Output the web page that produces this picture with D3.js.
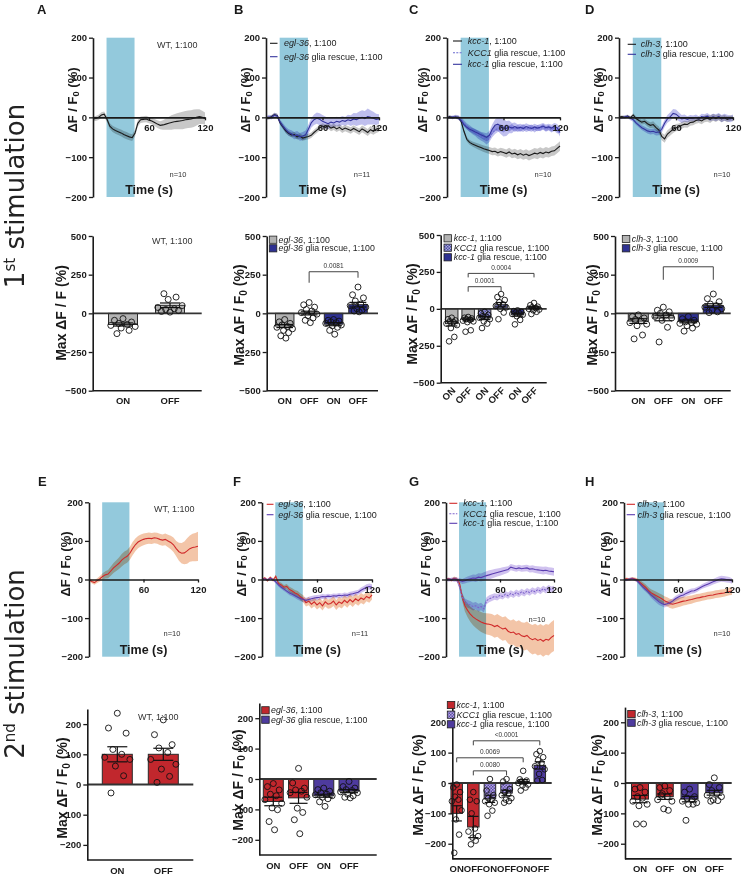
<!DOCTYPE html>
<html><head><meta charset="utf-8">
<script src="https://cdn.jsdelivr.net/npm/d3@7"></script>
<style>body{margin:0;background:#fff}svg{display:block;background:#fff}</style>
</head><body><svg id="c" width="747" height="876"></svg>
<script>
// ---------------- DATA ----------------
const time = [0,3,6,9,12,15,18,21,24,27,30,33,36,39,42,45,48,51,54,57,60,63,66,69,72,75,78,81,84,87,90,93,96,99,102,105,108,111,114,117,120];
const semTime = [0,12,24,36,48,60,72,84,96,108,120];
const stimWindow = [14.5, 44.5];
const yTicksLine = [-200,-100,0,100,200];
const xTicksLine = [60,120];

// 1st stimulation traces
const aWT = [-4,-3,0,6,8,-5,-22,-29,-33,-36,-39,-43,-46,-49,-51,-40,-15,-6,-5,-4,-7,-9,-13,-17,-20,-19,-17,-15,-13,-11,-10,-9,-8,-6,-5,-4,-2,0,2,0,-3];
const aWTsem = [6,7,8,9,8,8,10,18,22,22,15];
const bEgl = [0,-2,2,7,4,-14,-24,-34,-40,-44,-43,-49,-47,-52,-50,-48,-45,-38,-32,-26,-22,-25,-21,-27,-24,-29,-25,-31,-27,-30,-33,-28,-32,-36,-29,-33,-38,-31,-35,-30,-27];
const bEglSem = [4,5,6,7,7,7,8,8,8,9,9];
const bEglRes = [-2,1,0,6,3,-12,-22,-31,-38,-41,-46,-44,-49,-47,-44,-30,-14,-6,-2,-5,-10,-13,-16,-12,-14,-10,-12,-8,-10,-6,-8,-4,-6,-2,0,-3,2,0,-2,-5,-4];
const bEglResSem = [5,6,8,10,12,16,12,11,16,20,12];
const cKcc = [0,2,-1,1,0,-10,-35,-55,-63,-67,-70,-73,-76,-79,-81,-83,-86,-85,-89,-86,-88,-91,-87,-92,-90,-94,-91,-95,-92,-96,-93,-90,-92,-88,-91,-87,-89,-85,-84,-78,-72];
const cKccSem = [3,4,6,8,9,10,11,12,13,12,12];
const cKCC1Res = [0,1,-1,2,0,-5,-14,-22,-28,-34,-38,-44,-48,-52,-58,-52,-40,-32,-28,-26,-30,-25,-28,-24,-30,-26,-29,-24,-30,-27,-25,-31,-26,-28,-24,-29,-26,-31,-27,-33,-30];
const cKCC1ResSem = [3,5,8,10,10,8,7,7,7,7,8];
const cKccRes = [0,-1,1,0,-2,-8,-18,-25,-30,-33,-37,-40,-44,-47,-50,-45,-30,-20,-17,-22,-26,-28,-24,-27,-23,-27,-25,-28,-23,-26,-28,-24,-27,-25,-22,-26,-24,-27,-23,-26,-38];
const cKccResSem = [3,4,6,8,12,22,10,8,8,8,10];
const dClh = [0,2,0,3,-1,6,-3,-8,-12,-10,-16,-20,-18,-26,-32,-48,-54,-42,-36,-30,-26,-24,-20,-17,-18,-13,-12,-8,-6,-9,-4,-2,-5,0,-3,1,-4,-1,-5,-2,-3];
const dClhSem = [3,4,6,8,10,9,8,8,9,8,7];
const dClhRes = [0,-1,1,2,-2,-6,-14,-20,-26,-30,-34,-36,-35,-38,-37,-30,-15,-4,2,10,8,2,-4,-2,-5,-2,-3,0,-4,2,0,3,-2,1,-1,2,-3,0,-2,-4,-1];
const dClhResSem = [3,5,6,7,9,12,8,7,8,9,8];

// 2nd stimulation traces
const eWT = [0,-5,-8,-3,2,8,12,14,22,30,36,42,50,56,60,68,80,90,97,101,104,106,107,106,108,107,104,102,104,100,96,90,80,72,68,69,74,80,83,84,86];
const eWTsem = [4,7,12,16,17,15,14,15,20,33,38];
const fEgl = [0,4,-3,5,-2,8,-10,-14,-20,-18,-26,-30,-35,-38,-45,-50,-60,-56,-64,-58,-66,-60,-68,-58,-64,-62,-56,-66,-58,-62,-54,-60,-52,-58,-50,-55,-48,-52,-44,-48,-40];
const fEglSem = [3,4,6,8,10,12,12,13,13,13,12];
const fEglRes = [0,2,-1,3,0,-6,-14,-20,-25,-30,-35,-38,-42,-46,-49,-52,-54,-52,-50,-48,-47,-46,-44,-45,-43,-44,-42,-43,-41,-42,-40,-41,-38,-37,-35,-33,-28,-24,-20,-18,-20];
const fEglResSem = [3,4,5,6,7,7,6,6,6,7,8];
const gKcc = [0,2,-2,3,0,-10,-45,-68,-80,-90,-97,-102,-106,-110,-113,-115,-116,-118,-122,-119,-124,-128,-126,-134,-138,-136,-142,-140,-146,-148,-145,-152,-156,-153,-158,-155,-160,-155,-157,-150,-145];
const gKccSem = [3,5,18,25,28,30,32,35,38,40,40];
const gKCC1Res = [0,-2,1,-1,0,-18,-45,-58,-63,-66,-70,-68,-73,-70,-76,-55,-50,-47,-44,-46,-41,-44,-38,-42,-36,-40,-34,-38,-32,-36,-30,-34,-28,-32,-26,-30,-24,-28,-22,-26,-24];
const gKCC1ResSem = [3,6,10,10,9,8,8,8,8,8,8];
const gKccRes = [0,1,-1,2,0,-2,-5,-3,0,2,4,3,6,5,8,10,12,14,16,18,20,22,24,26,32,30,28,30,28,29,30,27,28,26,25,24,23,24,22,21,20];
const gKccResSem = [3,5,8,10,12,10,8,8,9,10,10];
const hClh = [0,2,0,3,1,-2,-8,-14,-20,-28,-34,-38,-42,-46,-50,-55,-58,-62,-64,-62,-60,-58,-56,-55,-53,-52,-50,-48,-47,-45,-44,-42,-41,-40,-38,-37,-36,-35,-33,-31,-30];
const hClhSem = [3,4,8,10,12,12,11,10,10,10,10];
const hClhRes = [0,-1,1,2,0,-4,-12,-20,-26,-32,-40,-46,-52,-58,-62,-65,-63,-60,-56,-50,-46,-42,-40,-36,-33,-30,-29,-26,-22,-18,-15,-12,-9,-6,-3,0,2,1,0,-1,-4];
const hClhResSem = [3,4,6,8,7,7,7,6,7,8,7];

// Bar chart data
const cats2 = ["ON","OFF"];
const cats4 = ["ON","OFF","ON","OFF"];
const cats6 = ["ON","OFF","ON","OFF","ON","OFF"];
const aBarMeans = [-72, 52];
const aBarSems = [10, 15];
const aBarPts = [[-34,-45,-56,-65,-72,-78,-85,-95,-110,-131],[8,12,18,25,30,38,50,90,105,127]];
const bBarMeans = [-82, 2, -70, 56];
const bBarSems = [10, 12, 10, 15];
const bBarPts = [[-40,-55,-65,-75,-85,-90,-100,-110,-125,-145,-160],[70,55,40,25,15,5,-5,-15,-30,-45,-60],[-40,-45,-50,-55,-60,-65,-75,-80,-90,-110,-135],[170,120,100,80,60,50,40,30,20,15,10]];
const cBarMeans = [-100, -72, -62, 28, -40, 10];
const cBarSems = [16, 10, 11, 15, 10, 7];
const cBarPts = [[-60,-70,-78,-85,-90,-100,-110,-130,-190,-220],[-55,-60,-65,-70,-75,-80,-85,-90,-145,-155],[-20,-30,-40,-50,-55,-60,-70,-85,-100,-130],[100,80,60,45,30,20,10,0,-25,-70],[-10,-15,-20,-25,-30,-35,-40,-50,-75,-105],[40,25,15,10,5,0,-5,-10,-20,-35]];
const dBarMeans = [-50, -30, -52, 50];
const dBarSems = [15, 18, 9, 12];
const dBarPts = [[-10,-20,-30,-40,-50,-60,-70,-80,-140,-165],[40,20,10,0,-10,-20,-30,-45,-90,-185],[-20,-35,-45,-55,-60,-65,-70,-80,-95,-115],[125,95,75,60,50,40,30,20,10,5]];
const eBarMeans = [100, 100];
const eBarSems = [25, 20];
const eBarPts = [[236,187,170,116,100,90,83,61,29,-28],[214,165,132,121,106,83,67,51,27,7]];
const fBarMeans = [-74, -62, -55, -40];
const fBarSems = [14, 18, 5, 5];
const fBarPts = [[-15,-25,-36,-50,-55,-68,-80,-95,-101,-140,-167],[35,-13,-30,-36,-40,-45,-60,-96,-110,-134,-180],[-30,-35,-40,-45,-50,-52,-55,-60,-65,-75,-90],[-8,-25,-30,-35,-38,-42,-45,-50,-55,-60,-62]];
const gBarMeans = [-100, -145, -52, -33, 5, 58];
const gBarSems = [25, 35, 12, 9, 6, 12];
const gBarPts = [[-5,-15,-30,-45,-55,-60,-90,-120,-170,-230],[-30,-55,-60,-100,-150,-160,-175,-180,-190,-202],[13,-25,-40,-50,-55,-60,-65,-70,-91,-108],[13,5,-20,-30,-35,-40,-50,-55,-60,-65],[40,12,8,5,3,0,-5,-8,-15,-25],[105,95,85,75,65,55,45,30,10,8]];
const hBarMeans = [-53, -45, -53, -32];
const hBarSems = [12, 9, 9, 8];
const hBarPts = [[-15,-20,-30,-45,-50,-60,-70,-75,-135,-135],[-10,-15,-25,-35,-45,-55,-60,-85,-90,-40],[-20,-30,-45,-50,-55,-60,-65,-70,-70,-123],[17,-5,-15,-25,-35,-40,-45,-55,-58,-60]];

const legEgl = [["egl-36", ", 1:100"], ["egl-36", " glia rescue, 1:100"]];
const legKcc = [["kcc-1", ", 1:100"], ["KCC1", " glia rescue, 1:100"], ["kcc-1", " glia rescue, 1:100"]];
const legClh = [["clh-3", ", 1:100"], ["clh-3", " glia rescue, 1:100"]];

// ---------------- STYLE ----------------
const FONT = '"Liberation Sans", Arial, Helvetica, sans-serif';
const STIM = '#93c9dc';
const INK = '#1a1a1a';
const GREY_BAND = '#c2c2c2', BLUE = '#34349e', BLUE_DOT = '#6a6ad0', BLUE_BAND = '#b8b8ec';
const RED = '#d02a2a', RED_BAND = '#f2bf9f', PURPLE = '#5a3cb0', PURPLE_DOT = '#7d62cc', PURPLE_BAND = '#cbbcee';
const BAR_GREY = '#b3b3b3', BAR_NAVY = '#2e3192', BAR_RED = '#c1272d', BAR_PURPLE = '#4e3b9e';

const svg = d3.select('#c').style('font-family', FONT);
const defs = svg.append('defs');
function checker(id, c1, c2) {
  const p = defs.append('pattern').attr('id', id).attr('width', 3).attr('height', 3).attr('patternUnits', 'userSpaceOnUse');
  p.append('rect').attr('width', 3).attr('height', 3).attr('fill', c1);
  p.append('rect').attr('width', 1.5).attr('height', 1.5).attr('fill', c2);
  p.append('rect').attr('x', 1.5).attr('y', 1.5).attr('width', 1.5).attr('height', 1.5).attr('fill', c2);
}
checker('patTop', '#a6a6d8', '#4e4ea6');
checker('patBot', '#b5a9dd', '#5c4aa9');

function dfLabel(g, cx, cy, size, prefix, sub) {
  const t = g.append('text').attr('transform', `translate(${cx},${cy}) rotate(-90)`)
    .attr('text-anchor', 'middle').attr('dominant-baseline', 'central')
    .attr('font-size', size).attr('font-weight', 'bold').attr('fill', INK);
  t.append('tspan').text(prefix + 'ΔF / F');
  if (sub) {
    t.append('tspan').attr('font-size', size * 0.72).attr('dy', size * 0.28).text('0');
    t.append('tspan').attr('dy', -size * 0.28).text(' (%)');
  } else {
    t.append('tspan').text(' (%)');
  }
}
function styleAxis(a, fs) {
  a.select('.domain').attr('stroke', INK).attr('stroke-width', 1.6);
  a.selectAll('.tick line').attr('stroke', INK).attr('stroke-width', 1.3);
  a.selectAll('.tick text').attr('font-size', fs).attr('font-weight', 'bold').attr('fill', INK).attr('font-family', FONT);
}
function richLegendText(g, x, y, parts, fs) {
  const t = g.append('text').attr('x', x).attr('y', y).attr('font-size', fs).attr('fill', '#222').attr('dominant-baseline', 'central');
  t.append('tspan').attr('font-style', 'italic').text(parts[0]);
  t.append('tspan').text(parts[1]);
}

// ---------------- LINE PANELS ----------------
const ROW = [{yTop: 37.7, yBot: 197, lab: 100, time: 193.5}, {yTop: 502.3, yBot: 656.7, lab: 564, time: 653.5}];
function linePanel(p) {
  const r = ROW[p.row];
  const g = svg.append('g');
  const x = d3.scaleLinear().domain([0, 120]).range([p.x0, p.x1]);
  const y = d3.scaleLinear().domain([-200, 200]).range([r.yBot, r.yTop]);
  g.append('rect').attr('x', x(stimWindow[0])).attr('width', x(stimWindow[1]) - x(stimWindow[0]))
    .attr('y', y(200)).attr('height', y(-200) - y(200)).attr('fill', STIM);
  const data = p.series.map(s => {
    const es = d3.scaleLinear().domain(semTime).range(s.sem);
    return time.map((t, i) => ({t, v: s.vals[i], e: es(t)}));
  });
  p.series.forEach((s, k) => {
    g.append('path').datum(data[k])
      .attr('d', d3.area().x(d => x(d.t)).y0(d => y(d.v - d.e)).y1(d => y(d.v + d.e)))
      .attr('fill', s.band).attr('opacity', 0.9).style('mix-blend-mode', 'multiply');
  });
  p.series.forEach((s, k) => {
    g.append('path').datum(data[k])
      .attr('d', d3.line().x(d => x(d.t)).y(d => y(d.v)))
      .attr('fill', 'none').attr('stroke', s.color).attr('stroke-width', 1.1)
      .attr('stroke-dasharray', s.dash ? '2,1.3' : null);
  });
  const xa = g.append('g').attr('transform', `translate(0,${y(0)})`)
    .call(d3.axisBottom(x).tickValues(xTicksLine).tickSize(3).tickSizeOuter(0).tickPadding(4));
  styleAxis(xa, 9.5);
  const ya = g.append('g').attr('transform', `translate(${p.x0},0)`)
    .call(d3.axisLeft(y).tickValues(yTicksLine).tickSize(4).tickSizeOuter(0).tickPadding(2));
  styleAxis(ya, 9.5);
  dfLabel(g, p.labX, r.lab, 13, '', true);
  g.append('text').attr('x', (p.x0 + p.x1) / 2).attr('y', r.time).attr('text-anchor', 'middle')
    .attr('font-size', 12.5).attr('font-weight', 'bold').attr('fill', INK).text('Time (s)');
  g.append('text').attr('x', p.nPos[0]).attr('y', p.nPos[1]).attr('text-anchor', 'middle')
    .attr('font-size', 7.5).attr('fill', '#333').text(p.n);
  if (p.wt) {
    g.append('text').attr('x', p.wt[0]).attr('y', p.wt[1]).attr('font-size', 9).attr('fill', '#333').text('WT, 1:100');
  }
  if (p.legend) {
    p.legend.rows.forEach((yy, i) => {
      const s = p.series[i];
      g.append('line').attr('x1', p.legend.lx[0]).attr('x2', p.legend.lx[1]).attr('y1', yy).attr('y2', yy)
        .attr('stroke', s.color).attr('stroke-width', 1.1).attr('stroke-dasharray', s.dash ? '2,1.3' : null);
      richLegendText(g, p.legend.tx, yy, p.legend.labels[i], 9);
    });
  }
}

linePanel({row: 0, x0: 93, x1: 205, labX: 72, n: 'n=10', nPos: [178, 177], wt: [157, 48],
  series: [{vals: aWT, sem: aWTsem, color: INK, band: GREY_BAND}]});
linePanel({row: 0, x0: 266, x1: 379, labX: 245, n: 'n=11', nPos: [362, 177],
  series: [{vals: bEgl, sem: bEglSem, color: INK, band: GREY_BAND}, {vals: bEglRes, sem: bEglResSem, color: BLUE, band: BLUE_BAND}],
  legend: {rows: [43.3, 56.7], lx: [270, 277.5], tx: 284, labels: legEgl}});
linePanel({row: 0, x0: 447, x1: 560, labX: 421.7, n: 'n=10', nPos: [543, 177],
  series: [{vals: cKcc, sem: cKccSem, color: INK, band: GREY_BAND}, {vals: cKCC1Res, sem: cKCC1ResSem, color: BLUE_DOT, band: BLUE_BAND, dash: true}, {vals: cKccRes, sem: cKccResSem, color: BLUE, band: BLUE_BAND}],
  legend: {rows: [41, 52.7, 64.3], lx: [453, 462], tx: 467.7, labels: legKcc}});
linePanel({row: 0, x0: 619, x1: 733, labX: 597.5, n: 'n=10', nPos: [722, 177],
  series: [{vals: dClh, sem: dClhSem, color: INK, band: GREY_BAND}, {vals: dClhRes, sem: dClhResSem, color: BLUE, band: BLUE_BAND}],
  legend: {rows: [44.3, 54.3], lx: [627.7, 636], tx: 640.7, labels: legClh}});
linePanel({row: 1, x0: 89, x1: 198, labX: 64.5, n: 'n=10', nPos: [172, 636], wt: [154, 512],
  series: [{vals: eWT, sem: eWTsem, color: RED, band: RED_BAND}]});
linePanel({row: 1, x0: 262, x1: 372, labX: 240.8, n: 'n=11', nPos: [360, 636],
  series: [{vals: fEgl, sem: fEglSem, color: RED, band: RED_BAND}, {vals: fEglRes, sem: fEglResSem, color: PURPLE, band: PURPLE_BAND}],
  legend: {rows: [504.3, 514.7], lx: [266.7, 273.5], tx: 278.3, labels: legEgl}});
linePanel({row: 1, x0: 446, x1: 554, labX: 424.5, n: 'n=10', nPos: [537, 622],
  series: [{vals: gKcc, sem: gKccSem, color: RED, band: RED_BAND}, {vals: gKCC1Res, sem: gKCC1ResSem, color: PURPLE_DOT, band: PURPLE_BAND, dash: true}, {vals: gKccRes, sem: gKccResSem, color: PURPLE, band: PURPLE_BAND}],
  legend: {rows: [503.3, 513.7, 523.3], lx: [449.3, 457.3], tx: 463.3, labels: legKcc}});
linePanel({row: 1, x0: 624, x1: 732, labX: 604.5, n: 'n=10', nPos: [722, 636],
  series: [{vals: hClh, sem: hClhSem, color: RED, band: RED_BAND}, {vals: hClhRes, sem: hClhResSem, color: PURPLE, band: PURPLE_BAND}],
  legend: {rows: [504.3, 514.7], lx: [626.7, 635], tx: 637.7, labels: legClh}});

// ---------------- BAR PANELS ----------------
const jitterPattern = [0, -0.7, 0.7, -0.35, 0.35, -1, 1, -0.15, 0.5, -0.5, 0.15];
function barPanel(p) {
  const g = svg.append('g');
  const y = d3.scaleLinear().domain(p.dom).range(p.yr);
  const x = d3.scalePoint().domain(d3.range(p.means.length)).range(p.c);
  const bw = p.bw;
  p.means.forEach((m, i) => {
    g.append('rect').attr('x', x(i) - bw / 2).attr('width', bw)
      .attr('y', Math.min(y(0), y(m))).attr('height', Math.abs(y(m) - y(0)))
      .attr('fill', p.fills[i]).attr('stroke', '#2a2a2a').attr('stroke-width', 1);
  });
  g.append('line').attr('x1', p.ax).attr('x2', p.right).attr('y1', y(0)).attr('y2', y(0))
    .attr('stroke', '#333').attr('stroke-width', 1.8);
  p.means.forEach((m, i) => {
    const s = p.sems[i], cw = Math.min(10, bw * 0.45);
    const eg = g.append('g').attr('stroke', '#111').attr('stroke-width', 1.2);
    eg.append('line').attr('x1', x(i)).attr('x2', x(i)).attr('y1', y(m - s)).attr('y2', y(m + s));
    eg.append('line').attr('x1', x(i) - cw).attr('x2', x(i) + cw).attr('y1', y(m + s)).attr('y2', y(m + s));
    eg.append('line').attr('x1', x(i) - cw).attr('x2', x(i) + cw).attr('y1', y(m - s)).attr('y2', y(m - s));
  });
  p.pts.forEach((arr, i) => {
    g.selectAll(null).data(arr).enter().append('circle')
      .attr('cx', (d, k) => x(i) + jitterPattern[k % jitterPattern.length] * bw * 0.42)
      .attr('cy', d => y(d)).attr('r', p.r || 3)
      .attr('fill', 'none').attr('stroke', '#111').attr('stroke-width', 0.9);
  });
  const ya = g.append('g').attr('transform', `translate(${p.ax},0)`)
    .call(d3.axisLeft(y).tickValues(p.ticks).tickSize(4).tickSizeOuter(0).tickPadding(2));
  styleAxis(ya, 9.5);
  g.append('line').attr('x1', p.ax).attr('x2', p.right).attr('y1', p.yr[0]).attr('y2', p.yr[0])
    .attr('stroke', INK).attr('stroke-width', 1.6);
  p.cats.forEach((c, i) => {
    if (p.rot) {
      g.append('text').attr('transform', `translate(${x(i) + 2},${p.yr[0] + 6}) rotate(-45)`)
        .attr('text-anchor', 'end').attr('dominant-baseline', 'central')
        .attr('font-size', 9.5).attr('font-weight', 'bold').attr('fill', INK).text(c);
    } else {
      g.append('text').attr('x', x(i)).attr('y', p.yr[0] + 13.5).attr('text-anchor', 'middle')
        .attr('font-size', 9.5).attr('font-weight', 'bold').attr('fill', INK).text(c);
    }
  });
  dfLabel(g, p.lab[0], p.lab[1], 14, 'Max ', p.sub);
  if (p.wt) g.append('text').attr('x', p.wt[0]).attr('y', p.wt[1]).attr('font-size', 9).attr('fill', '#333').text('WT, 1:100');
  if (p.legend) {
    p.legend.rows.forEach((yy, i) => {
      g.append('rect').attr('x', p.legend.sx).attr('y', yy - 3.6).attr('width', 7.5).attr('height', 7.2)
        .attr('fill', p.legend.fills[i]).attr('stroke', '#222').attr('stroke-width', 0.8);
      richLegendText(g, p.legend.tx, yy, p.legend.labels[i], 8.8);
    });
  }
  (p.sig || []).forEach(b => {
    const yy = y(b.level);
    g.append('path').attr('d', `M${x(b.from)},${yy + b.dl}V${yy}H${x(b.to)}V${yy + b.dr}`)
      .attr('fill', 'none').attr('stroke', '#444').attr('stroke-width', 1);
    g.append('text').attr('x', (x(b.from) + x(b.to)) / 2).attr('y', yy - 3.5).attr('text-anchor', 'middle')
      .attr('font-size', 6.5).attr('fill', '#333').text(b.text);
  });
}
const t500 = [-500, -250, 0, 250, 500];
const t200 = [-200, -100, 0, 100, 200];
barPanel({ax: 92.7, right: 201.7, yr: [390.7, 236], dom: [-500, 500], ticks: t500, c: [123, 170], bw: 29,
  means: aBarMeans, sems: aBarSems, pts: aBarPts, cats: cats2, fills: [BAR_GREY, BAR_GREY], lab: [61, 313], sub: false, wt: [152, 244]});
barPanel({ax: 266.7, right: 378, yr: [390.7, 236], dom: [-500, 500], ticks: t500, c: [284.7, 358], bw: 18.5,
  means: bBarMeans, sems: bBarSems, pts: bBarPts, cats: cats4, fills: [BAR_GREY, BAR_GREY, BAR_NAVY, BAR_NAVY], lab: [239, 315], sub: true,
  legend: {rows: [239.7, 248.3], sx: 269.3, tx: 278.5, fills: [BAR_GREY, BAR_NAVY], labels: legEgl},
  sig: [{from: 1, to: 3, level: 269, dl: 11, dr: 6, text: '0.0081'}]});
barPanel({ax: 440.7, right: 546.7, yr: [382.7, 235], dom: [-500, 500], ticks: t500, c: [451.7, 534], bw: 12.5, r: 2.8,
  means: cBarMeans, sems: cBarSems, pts: cBarPts, cats: cats6, rot: true, fills: [BAR_GREY, BAR_GREY, 'url(#patTop)', 'url(#patTop)', BAR_NAVY, BAR_NAVY], lab: [412, 314], sub: true,
  legend: {rows: [238.3, 247.7, 257.3], sx: 444, tx: 453.8, fills: [BAR_GREY, 'url(#patTop)', BAR_NAVY], labels: legKcc},
  sig: [{from: 1, to: 5, level: 240, dl: 4, dr: 4, text: '0.0004'}, {from: 1, to: 3, level: 150, dl: 5, dr: 5, text: '0.0001'}]});
barPanel({ax: 615, right: 730.7, yr: [390.7, 236], dom: [-500, 500], ticks: t500, c: [638.3, 713.3], bw: 20,
  means: dBarMeans, sems: dBarSems, pts: dBarPts, cats: cats4, fills: [BAR_GREY, BAR_GREY, BAR_NAVY, BAR_NAVY], lab: [592, 315], sub: true,
  legend: {rows: [239, 248.3], sx: 622.3, tx: 631.8, fills: [BAR_GREY, BAR_NAVY], labels: legClh},
  sig: [{from: 1, to: 3, level: 301, dl: 13, dr: 13, text: '0.0009'}]});
barPanel({ax: 87.3, right: 193.3, yr: [860, 709], dom: [-250, 250], ticks: t200, c: [117.3, 163.3], bw: 30,
  means: eBarMeans, sems: eBarSems, pts: eBarPts, cats: cats2, fills: [BAR_RED, BAR_RED], lab: [61.7, 788], sub: true, wt: [138, 720]});
barPanel({ax: 259.3, right: 376.7, yr: [855, 703], dom: [-250, 250], ticks: t200, c: [273.3, 349], bw: 20,
  means: fBarMeans, sems: fBarSems, pts: fBarPts, cats: cats4, fills: [BAR_RED, BAR_RED, BAR_PURPLE, BAR_PURPLE], lab: [237.5, 780], sub: true,
  legend: {rows: [710.3, 719.7], sx: 261.7, tx: 271, fills: [BAR_RED, BAR_PURPLE], labels: legEgl}});
barPanel({ax: 452.3, right: 551.7, yr: [858.9, 707.1], dom: [-250, 250], ticks: t200, c: [456.7, 539.8], bw: 11.5, r: 2.8,
  means: gBarMeans, sems: gBarSems, pts: gBarPts, cats: cats6, fills: [BAR_RED, BAR_RED, 'url(#patBot)', 'url(#patBot)', BAR_PURPLE, BAR_PURPLE], lab: [418, 785], sub: true,
  legend: {rows: [705, 714.7, 724.3], sx: 447.3, tx: 456.5, fills: [BAR_RED, 'url(#patBot)', BAR_PURPLE], labels: legKcc},
  sig: [{from: 1, to: 5, level: 139, dl: 4.5, dr: 4.5, text: '<0.0001'}, {from: 0, to: 4, level: 83, dl: 4.5, dr: 4.5, text: '0.0069'}, {from: 1, to: 3, level: 40, dl: 4.5, dr: 4.5, text: '0.0080'}]});
barPanel({ax: 625, right: 731.7, yr: [858.9, 707.1], dom: [-250, 250], ticks: t200, c: [640, 714.3], bw: 17,
  means: hBarMeans, sems: hBarSems, pts: hBarPts, cats: cats4, fills: [BAR_RED, BAR_RED, BAR_PURPLE, BAR_PURPLE], lab: [597, 785], sub: true,
  legend: {rows: [714, 722.7], sx: 627.7, tx: 637, fills: [BAR_RED, BAR_PURPLE], labels: legClh}});

// ---------------- PANEL LETTERS & ROW TITLES ----------------
const letters = [['A', 37, 14], ['B', 234, 14], ['C', 409, 14], ['D', 585, 14], ['E', 38, 486], ['F', 233, 486], ['G', 409, 486], ['H', 585, 486]];
letters.forEach(([l, x, y]) => svg.append('text').attr('x', x).attr('y', y).attr('font-size', 13)
  .attr('font-weight', 'bold').attr('fill', INK).text(l));
function rowTitle(cy, num, sup) {
  const t = svg.append('text').attr('transform', `translate(24,${cy}) rotate(-90)`)
    .attr('text-anchor', 'middle')
    .attr('font-family', '"DejaVu Sans", "Open Sans", sans-serif').attr('font-size', 26).attr('fill', '#222');
  t.append('tspan').text(num);
  t.append('tspan').attr('font-size', 15).attr('dy', -9).text(sup);
  t.append('tspan').attr('dy', 9).text(' stimulation');
}
rowTitle(196, '1', 'st');
rowTitle(664, '2', 'nd');
</script></body></html>
